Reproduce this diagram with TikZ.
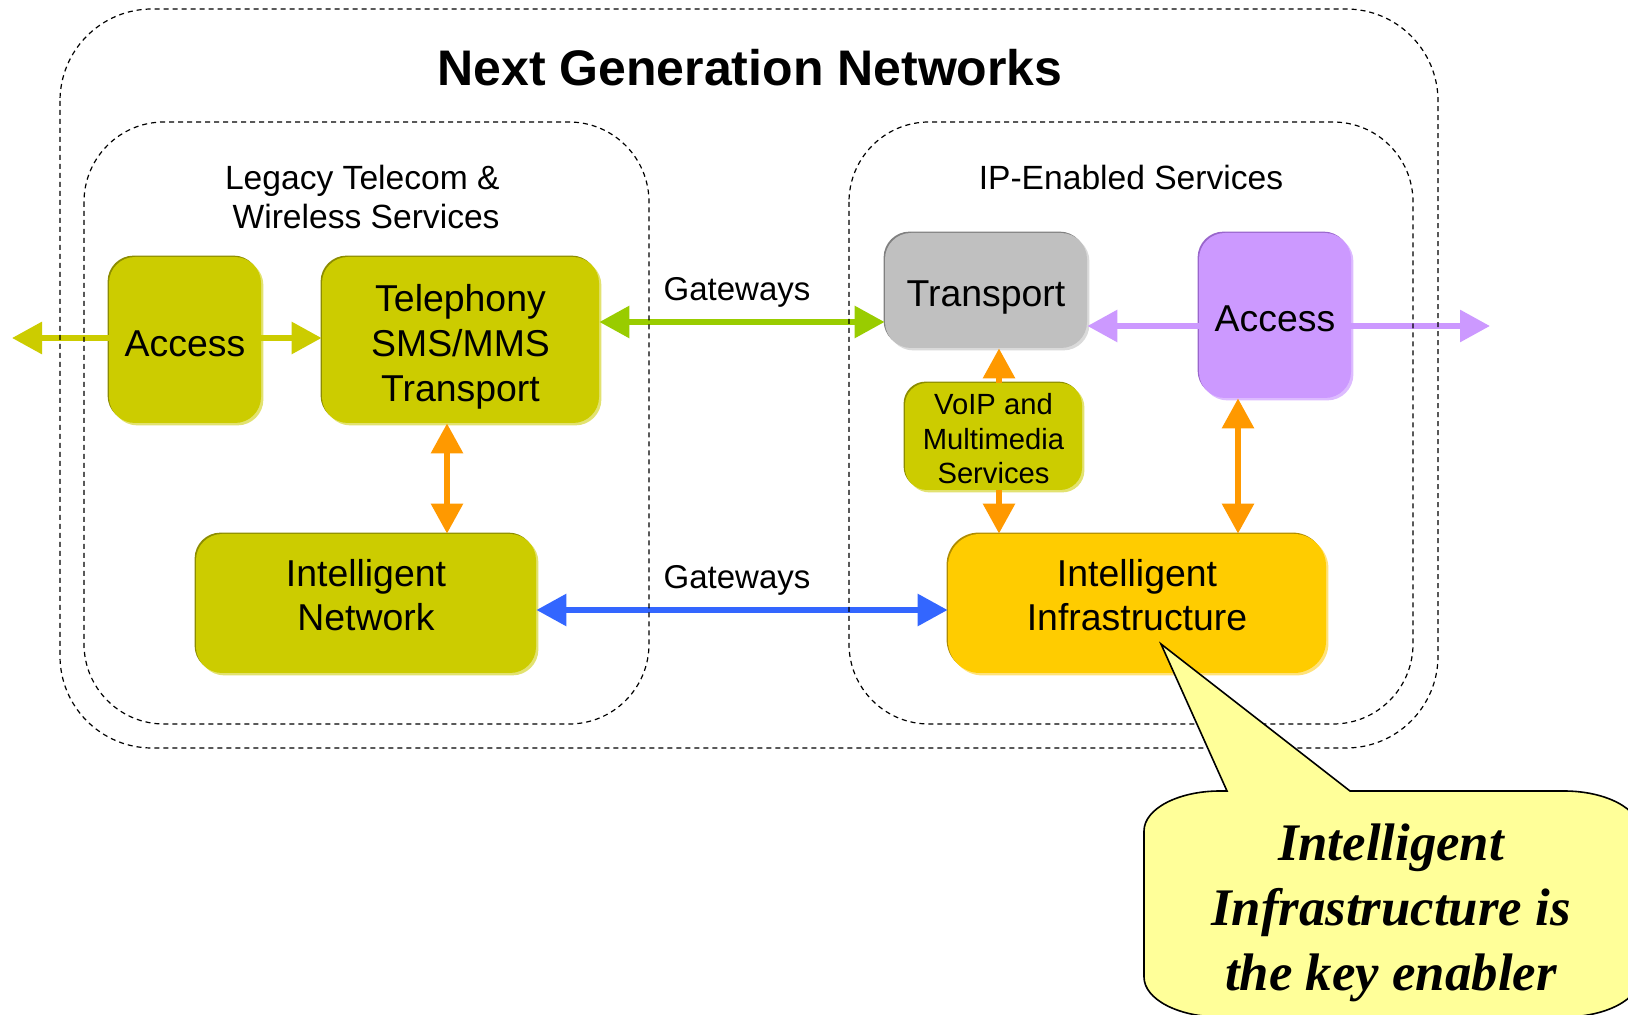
\documentclass[tikz,border=0pt]{standalone}
\usepackage{fontspec}
\setmainfont{Liberation Sans}
\newfontfamily\calloutfont{Liberation Serif}
\usetikzlibrary{arrows.meta,shadows}
\definecolor{olivefill}{HTML}{CCCC00}
\definecolor{olivedark}{HTML}{8C8C00}
\definecolor{olivelight}{HTML}{E2E270}
\definecolor{grayfill}{HTML}{C0C0C0}
\definecolor{graydark}{HTML}{808080}
\definecolor{graylight}{HTML}{DADADA}
\definecolor{purpfill}{HTML}{CC99FF}
\definecolor{purpdark}{HTML}{9966CC}
\definecolor{purplight}{HTML}{DDBBFF}
\definecolor{goldfill}{HTML}{FFCC00}
\definecolor{golddark}{HTML}{B08C00}
\definecolor{goldlight}{HTML}{FFE27A}
\definecolor{arrgreen}{HTML}{99CC00}
\definecolor{arrpurple}{HTML}{CC99FF}
\definecolor{arrorange}{HTML}{FF9900}
\definecolor{arrblue}{HTML}{3366FF}
\definecolor{calloutfill}{HTML}{FFFF99}
\tikzset{
  >={Triangle[length=15pt,width=15.5pt]},
  conn/.style={line width=3pt},
  region/.style={draw=black, line width=0.6pt, dash pattern=on 2.5pt off 2pt},
  box/.style={rounded corners=13pt, inner sep=0pt, align=center,
    font=\fontsize{18.7}{22.3}\selectfont},
  linebox/.style={text height=#1, text depth=0pt},
  linebox/.default=16.3pt,
  olivebox/.style={box, fill=olivefill,
    drop shadow={shadow xshift=-0.7pt,shadow yshift=0.7pt,fill=olivedark,opacity=1},
    drop shadow={shadow xshift=1.2pt,shadow yshift=-1.2pt,fill=olivelight,opacity=1}},
  graybox/.style={box, fill=grayfill,
    drop shadow={shadow xshift=-0.7pt,shadow yshift=0.7pt,fill=graydark,opacity=1},
    drop shadow={shadow xshift=1.2pt,shadow yshift=-1.2pt,fill=graylight,opacity=1}},
  purpbox/.style={box, fill=purpfill,
    drop shadow={shadow xshift=-0.7pt,shadow yshift=0.7pt,fill=purpdark,opacity=1},
    drop shadow={shadow xshift=1.2pt,shadow yshift=-1.2pt,fill=purplight,opacity=1}},
  goldbox/.style={box, fill=goldfill, rounded corners=16pt,
    drop shadow={shadow xshift=-0.7pt,shadow yshift=0.7pt,fill=golddark,opacity=1},
    drop shadow={shadow xshift=1.2pt,shadow yshift=-1.2pt,fill=goldlight,opacity=1}},
  labeltext/.style={font=\fontsize{16.5}{19.7}\selectfont, inner sep=0pt},
}
\begin{document}
\begin{tikzpicture}[x=0.5pt,y=-0.5pt]
\clip (0,0) rectangle (1628,1015);
\fill[white] (0,0) rectangle (1628,1015);

% boxes
\node[olivebox, linebox, minimum width=76pt, minimum height=83pt] (accL) at (185,340) {Access};
\node[olivebox, linebox=61.1pt, minimum width=138.5pt, minimum height=83pt] (tel) at (460.5,340) {Telephony\\SMS/MMS\\Transport};
\node[olivebox, minimum width=170pt, minimum height=69.5pt] (intN) at (366,603.5)
  {\raisebox{2pt}[\height][\depth]{\begin{tabular}{@{}c@{}}Intelligent\\Network\end{tabular}}};
\node[graybox, linebox, minimum width=101pt, minimum height=57.5pt] (trans) at (986,290.5) {Transport};
\node[purpbox, linebox, minimum width=76pt, minimum height=82.5pt] (accR) at (1275,315.5) {Access};
\node[olivebox, linebox=47.4pt, rounded corners=11pt, minimum width=88.5pt, minimum height=53.5pt,
  font=\fontsize{14.6}{17.25}\selectfont] (voip) at (993.5,436.5) {VoIP and\\Multimedia\\Services};
\node[goldbox, minimum width=189pt, minimum height=69.5pt] (infra) at (1137,603.5)
  {\raisebox{2pt}[\height][\depth]{\begin{tabular}{@{}c@{}}Intelligent\\Infrastructure\end{tabular}}};

% connector helper coordinates
\coordinate (lend) at (12,338);
\coordinate (rend) at (1490,326);
\coordinate (gw1) at (742,322);
\coordinate (gw2) at (742,610);
\coordinate (o1) at (447,480);
\coordinate (o2) at (999,436);
\coordinate (o3) at (1238,466);

% connectors
\draw[conn, ->, olivefill] (accL.west |- lend) -- (lend);
\draw[conn, ->, olivefill] (accL.east |- lend) -- (tel.west |- lend);
\draw[conn, <->, arrgreen] (tel.east |- gw1) -- (trans.west |- gw1);
\draw[conn, ->, arrpurple] (accR.west |- rend) -- (trans.east |- rend);
\draw[conn, ->, arrpurple] (accR.east |- rend) -- (rend);
\draw[conn, <->, arrorange] (tel.south -| o1) -- (intN.north -| o1);
\draw[conn, ->, arrorange] (voip.north -| o2) -- (trans.south -| o2);
\draw[conn, ->, arrorange] (voip.south -| o2) -- (infra.north -| o2);
\draw[conn, <->, arrorange] (accR.south -| o3) -- (infra.north -| o3);
\draw[conn, <->, arrblue] (intN.east |- gw2) -- (infra.west |- gw2);

% dashed regions
\draw[region, rounded corners=46pt] (60,9) rectangle (1438,748);
\draw[region, rounded corners=40pt] (84,122) rectangle (649,724);
\draw[region, rounded corners=40pt] (849,122) rectangle (1413,724);

% texts
\node[font=\bfseries\fontsize{25}{30}\selectfont, inner sep=0pt] (title) at (750,68) {Next Generation Networks};
\node[labeltext, font=\fontsize{16.8}{19.9}\selectfont, align=right, anchor=east] (legacy) at (500,197) {Legacy Telecom \&\\Wireless Services};
\node[labeltext, font=\fontsize{16.8}{19.9}\selectfont] (ipserv) at (1131,177) {IP-Enabled Services};
\node[labeltext] (gwlab1) at (737,292) {Gateways};
\node[labeltext] (gwlab2) at (737,580) {Gateways};

% callout
\draw[fill=calloutfill, draw=black, line width=0.8pt]
  (1227,791) -- (1161,644) -- (1350,791) -- (1564,791)
  arc[start angle=90, end angle=0, x radius=38pt, y radius=20pt]
  -- (1640,977)
  arc[start angle=0, end angle=-90, x radius=38pt, y radius=20pt]
  -- (1220,1017)
  arc[start angle=-90, end angle=-180, x radius=38pt, y radius=20pt]
  -- (1144,831)
  arc[start angle=180, end angle=90, x radius=38pt, y radius=20pt]
  -- cycle;
\node[font=\calloutfont\bfseries\itshape\fontsize{26.4}{32.5}\selectfont, align=center, inner sep=0pt]
  (note) at (1391,913) {Intelligent\\Infrastructure is\\the key enabler};
\end{tikzpicture}
\end{document}
